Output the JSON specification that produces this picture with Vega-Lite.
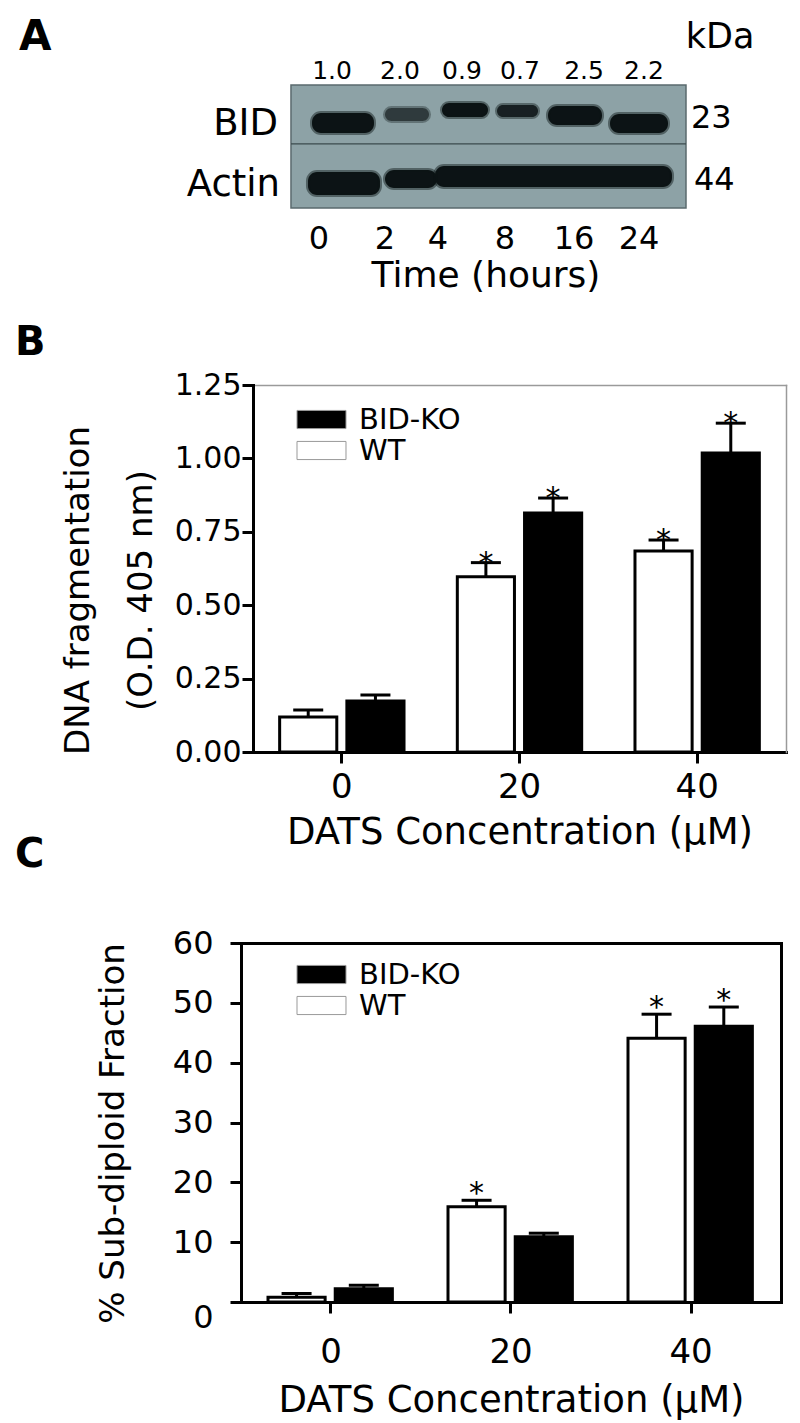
{
  "$schema": "https://vega.github.io/schema/vega-lite/v6.json",
  "padding": {"left": 15, "top": 16, "right": 5, "bottom": 5},
  "background": "white",
  "spacing": 191,
  "bounds": "flush",
  "resolve": {"scale": {"fill": "independent", "opacity": "independent"}, "legend": {"fill": "independent"}},
  "config": {
    "font": "DejaVu Sans",
    "view": {"stroke": null},
    "axis": {"domainColor": "black", "tickColor": "black", "labelColor": "black", "titleColor": "black", "grid": false, "labelFont": "DejaVu Sans", "titleFont": "DejaVu Sans", "titleFontWeight": "normal", "domainCap": "square"},
    "legend": {"labelFont": "DejaVu Sans", "labelColor": "black"},
    "title": {"font": "DejaVu Sans"}
  },
  "datasets": {
    "blot": [
      {"part": "membrane", "x1": 9.17, "x2": 81.65, "y1": 0, "y2": 112.8, "density": 1},
      {"part": "divider", "x1": 9.17, "x2": 81.65, "y1": 54.1, "y2": 54.1, "density": 1},
      {"part": "band", "x1": 13.03, "x2": 24.4, "y1": 25.7, "y2": 44.0, "density": 1},
      {"part": "band", "x1": 26.42, "x2": 34.5, "y1": 21.1, "y2": 33.0, "density": 0.72},
      {"part": "band", "x1": 36.88, "x2": 45.32, "y1": 16.5, "y2": 29.4, "density": 1},
      {"part": "band", "x1": 46.97, "x2": 54.5, "y1": 18.3, "y2": 29.4, "density": 0.9},
      {"part": "band", "x1": 56.33, "x2": 66.24, "y1": 19.3, "y2": 36.7, "density": 1},
      {"part": "band", "x1": 67.71, "x2": 78.35, "y1": 26.6, "y2": 44.0, "density": 1},
      {"part": "band", "x1": 12.29, "x2": 25.5, "y1": 79.8, "y2": 100.9, "density": 1},
      {"part": "band", "x1": 26.42, "x2": 35.96, "y1": 78.0, "y2": 94.5, "density": 1},
      {"part": "band", "x1": 35.6, "x2": 79.08, "y1": 74.3, "y2": 93.6, "density": 1}
    ],
    "blotText": [
      {"kind": "panel", "label": "A", "x": -40.73, "y": -43.6},
      {"kind": "header", "label": "kDa", "x": 87.89, "y": -43.6},
      {"kind": "ratio", "label": "1.0", "x": 16.7, "y": -12.4},
      {"kind": "ratio", "label": "2.0", "x": 29.17, "y": -12.4},
      {"kind": "ratio", "label": "0.9", "x": 40.55, "y": -12.4},
      {"kind": "ratio", "label": "0.7", "x": 51.19, "y": -12.4},
      {"kind": "ratio", "label": "2.5", "x": 62.94, "y": -12.4},
      {"kind": "ratio", "label": "2.2", "x": 73.94, "y": -12.4},
      {"kind": "protein", "label": "BID", "x": 6.79, "y": 36.2},
      {"kind": "protein", "label": "Actin", "x": 7.16, "y": 91.7},
      {"kind": "mw", "label": "23", "x": 82.57, "y": 30.7},
      {"kind": "mw", "label": "44", "x": 83.12, "y": 87.2},
      {"kind": "time", "label": "0", "x": 14.31, "y": 141.7},
      {"kind": "time", "label": "2", "x": 26.42, "y": 141.7},
      {"kind": "time", "label": "4", "x": 36.15, "y": 141.7},
      {"kind": "time", "label": "8", "x": 48.44, "y": 141.7},
      {"kind": "time", "label": "16", "x": 61.1, "y": 141.7},
      {"kind": "time", "label": "24", "x": 73.03, "y": 141.7},
      {"kind": "axisTitle", "label": "Time (hours)", "x": 44.95, "y": 175.2}
    ],
    "dnaFrag": [
      {"conc": "0", "group": "WT", "value": 0.119, "upper": 0.143, "sig": false},
      {"conc": "0", "group": "BID-KO", "value": 0.174, "upper": 0.194, "sig": false},
      {"conc": "20", "group": "WT", "value": 0.597, "upper": 0.645, "sig": true},
      {"conc": "20", "group": "BID-KO", "value": 0.814, "upper": 0.865, "sig": true},
      {"conc": "40", "group": "WT", "value": 0.685, "upper": 0.722, "sig": true},
      {"conc": "40", "group": "BID-KO", "value": 1.018, "upper": 1.12, "sig": true}
    ],
    "subdiploid": [
      {"conc": "0", "group": "WT", "value": 0.8, "upper": 1.4, "sig": false},
      {"conc": "0", "group": "BID-KO", "value": 2.2, "upper": 2.8, "sig": false},
      {"conc": "20", "group": "WT", "value": 15.9, "upper": 17.0, "sig": true},
      {"conc": "20", "group": "BID-KO", "value": 10.9, "upper": 11.5, "sig": false},
      {"conc": "40", "group": "WT", "value": 44.1, "upper": 48.1, "sig": true},
      {"conc": "40", "group": "BID-KO", "value": 46.1, "upper": 49.3, "sig": true}
    ]
  },
  "vconcat": [
    {
      "width": 545,
      "height": 109,
      "layer": [
        {
          "data": {"name": "blot"},
          "transform": [{"filter": "datum.part === 'membrane'"}],
          "mark": {"type": "rect", "fill": "#8da2a6", "stroke": "#5a6a6d", "strokeWidth": 1.5},
          "encoding": {
            "x": {"field": "x1", "type": "quantitative", "scale": {"domain": [0, 100], "nice": false, "zero": false}, "axis": null},
            "x2": {"field": "x2"},
            "y": {"field": "y1", "type": "quantitative", "scale": {"domain": [0, 100], "nice": false, "zero": false, "reverse": true}, "axis": null},
            "y2": {"field": "y2"}
          }
        },
        {
          "data": {"name": "blot"},
          "transform": [{"filter": "datum.part === 'divider'"}],
          "mark": {"type": "rule", "color": "#3b4a4d", "strokeWidth": 1.2},
          "encoding": {
            "x": {"field": "x1", "type": "quantitative", "scale": {"domain": [0, 100], "nice": false, "zero": false}, "axis": null},
            "x2": {"field": "x2"},
            "y": {"field": "y1", "type": "quantitative", "scale": {"domain": [0, 100], "nice": false, "zero": false, "reverse": true}, "axis": null}
          }
        },
        {
          "data": {"name": "blot"},
          "transform": [{"filter": "datum.part === 'band'"}],
          "mark": {"type": "rect", "fill": "#0c1315", "stroke": "#0c1315", "strokeWidth": 4, "strokeOpacity": 0.45, "cornerRadius": 9},
          "encoding": {
            "x": {"field": "x1", "type": "quantitative", "scale": {"domain": [0, 100], "nice": false, "zero": false}, "axis": null},
            "x2": {"field": "x2"},
            "y": {"field": "y1", "type": "quantitative", "scale": {"domain": [0, 100], "nice": false, "zero": false, "reverse": true}, "axis": null},
            "y2": {"field": "y2"},
            "opacity": {"field": "density", "type": "quantitative", "scale": {"domain": [0, 1], "range": [0, 1]}, "legend": null}
          }
        },
        {
          "data": {"name": "blotText"},
          "transform": [{"filter": "datum.kind === 'panel'"}],
          "mark": {"type": "text", "align": "left", "baseline": "middle", "fontSize": 42, "fontWeight": "bold", "color": "black"},
          "encoding": {
            "x": {"field": "x", "type": "quantitative", "scale": {"domain": [0, 100], "nice": false, "zero": false}, "axis": null},
            "y": {"field": "y", "type": "quantitative", "scale": {"domain": [0, 100], "nice": false, "zero": false, "reverse": true}, "axis": null},
            "text": {"field": "label"}
          }
        },
        {
          "data": {"name": "blotText"},
          "transform": [{"filter": "datum.kind === 'header'"}],
          "mark": {"type": "text", "align": "center", "baseline": "middle", "fontSize": 35, "color": "black"},
          "encoding": {
            "x": {"field": "x", "type": "quantitative", "scale": {"domain": [0, 100], "nice": false, "zero": false}, "axis": null},
            "y": {"field": "y", "type": "quantitative", "scale": {"domain": [0, 100], "nice": false, "zero": false, "reverse": true}, "axis": null},
            "text": {"field": "label"}
          }
        },
        {
          "data": {"name": "blotText"},
          "transform": [{"filter": "datum.kind === 'time'"}],
          "mark": {"type": "text", "align": "center", "baseline": "middle", "fontSize": 32, "color": "black"},
          "encoding": {
            "x": {"field": "x", "type": "quantitative", "scale": {"domain": [0, 100], "nice": false, "zero": false}, "axis": null},
            "y": {"field": "y", "type": "quantitative", "scale": {"domain": [0, 100], "nice": false, "zero": false, "reverse": true}, "axis": null},
            "text": {"field": "label"}
          }
        },
        {
          "data": {"name": "blotText"},
          "transform": [{"filter": "datum.kind === 'ratio'"}],
          "mark": {"type": "text", "align": "center", "baseline": "middle", "fontSize": 25, "color": "black"},
          "encoding": {
            "x": {"field": "x", "type": "quantitative", "scale": {"domain": [0, 100], "nice": false, "zero": false}, "axis": null},
            "y": {"field": "y", "type": "quantitative", "scale": {"domain": [0, 100], "nice": false, "zero": false, "reverse": true}, "axis": null},
            "text": {"field": "label"}
          }
        },
        {
          "data": {"name": "blotText"},
          "transform": [{"filter": "datum.kind === 'protein'"}],
          "mark": {"type": "text", "align": "right", "baseline": "middle", "fontSize": 37, "color": "black"},
          "encoding": {
            "x": {"field": "x", "type": "quantitative", "scale": {"domain": [0, 100], "nice": false, "zero": false}, "axis": null},
            "y": {"field": "y", "type": "quantitative", "scale": {"domain": [0, 100], "nice": false, "zero": false, "reverse": true}, "axis": null},
            "text": {"field": "label"}
          }
        },
        {
          "data": {"name": "blotText"},
          "transform": [{"filter": "datum.kind === 'mw'"}],
          "mark": {"type": "text", "align": "left", "baseline": "middle", "fontSize": 32, "color": "black"},
          "encoding": {
            "x": {"field": "x", "type": "quantitative", "scale": {"domain": [0, 100], "nice": false, "zero": false}, "axis": null},
            "y": {"field": "y", "type": "quantitative", "scale": {"domain": [0, 100], "nice": false, "zero": false, "reverse": true}, "axis": null},
            "text": {"field": "label"}
          }
        },
        {
          "data": {"name": "blotText"},
          "transform": [{"filter": "datum.kind === 'axisTitle'"}],
          "mark": {"type": "text", "align": "center", "baseline": "middle", "fontSize": 36, "color": "black"},
          "encoding": {
            "x": {"field": "x", "type": "quantitative", "scale": {"domain": [0, 100], "nice": false, "zero": false}, "axis": null},
            "y": {"field": "y", "type": "quantitative", "scale": {"domain": [0, 100], "nice": false, "zero": false, "reverse": true}, "axis": null},
            "text": {"field": "label"}
          }
        }
      ]
    },
    {
      "width": 545,
      "height": 367,
      "title": {"text": "B", "anchor": "start", "frame": "group", "dx": -226, "offset": 7, "fontSize": 40, "fontWeight": "bold", "color": "black"},
      "data": {"name": "dnaFrag"},
      "layer": [
        {
          "mark": {"type": "bar", "stroke": "black", "strokeWidth": 3},
          "encoding": {
            "x": {"field": "conc", "type": "nominal", "sort": ["0", "20", "40"], "scale": {"range": [12, 545], "paddingInner": 0.3, "paddingOuter": 0.15},
              "axis": {"orient": "bottom", "title": "DATS Concentration (μM)", "labelAngle": 0, "labelFontSize": 34, "labelPadding": 7, "tickSize": 11, "tickWidth": 3, "domainWidth": 3, "titleFontSize": 37, "titlePadding": 10}},
            "xOffset": {"field": "group", "type": "nominal", "sort": ["WT", "BID-KO"], "scale": {"paddingInner": 0.15}},
            "y": {"field": "value", "type": "quantitative", "scale": {"domain": [0, 1.25], "nice": false},
              "axis": {"orient": "left", "offset": -12, "values": [0, 0.25, 0.5, 0.75, 1, 1.25], "format": ".2f", "labelFontSize": 30, "labelPadding": 1, "tickSize": 11, "tickWidth": 3, "domainWidth": 3,
                "title": ["DNA fragmentation", "(O.D. 405 nm)"], "titleFontSize": 34, "titleLineHeight": 63, "titleAngle": -90, "titleX": -175, "titleY": 205, "titleAlign": "center", "titleBaseline": "middle"}},
            "fill": {"field": "group", "type": "nominal", "scale": {"domain": ["BID-KO", "WT"], "range": ["black", "white"]},
              "legend": {"orient": "none", "legendX": 66, "legendY": 20, "title": null, "symbolType": "M-2,-0.74H2V0.74H-2Z", "symbolSize": 600, "symbolStrokeColor": "#999", "symbolStrokeWidth": 1, "symbolOpacity": 1, "labelFontSize": 29, "labelOffset": 23, "rowPadding": 1}}
          }
        },
        {
          "mark": {"type": "rule", "color": "black", "strokeWidth": 3},
          "encoding": {
            "x": {"field": "conc", "type": "nominal", "sort": ["0", "20", "40"], "axis": null},
            "xOffset": {"field": "group", "type": "nominal", "sort": ["WT", "BID-KO"]},
            "y": {"field": "value", "type": "quantitative", "axis": null},
            "y2": {"field": "upper"}
          }
        },
        {
          "mark": {"type": "tick", "orient": "horizontal", "color": "black", "size": 30, "thickness": 3, "opacity": 1},
          "encoding": {
            "x": {"field": "conc", "type": "nominal", "sort": ["0", "20", "40"], "axis": {"orient": "top", "labels": false, "ticks": false, "title": null, "domainColor": "#9a9a9a", "domainWidth": 1.5}},
            "xOffset": {"field": "group", "type": "nominal", "sort": ["WT", "BID-KO"]},
            "y": {"field": "upper", "type": "quantitative", "axis": {"orient": "right", "labels": false, "ticks": false, "title": null, "domainColor": "#9a9a9a", "domainWidth": 1.5}}
          }
        },
        {
          "transform": [{"filter": "datum.sig"}],
          "mark": {"type": "text", "text": "*", "fontSize": 30, "baseline": "alphabetic", "dy": 10, "color": "black"},
          "encoding": {
            "x": {"field": "conc", "type": "nominal", "sort": ["0", "20", "40"], "axis": null},
            "xOffset": {"field": "group", "type": "nominal", "sort": ["WT", "BID-KO"]},
            "y": {"field": "upper", "type": "quantitative", "axis": null}
          }
        }
      ],
      "resolve": {"axis": {"x": "independent", "y": "independent"}}
    },
    {
      "width": 540,
      "height": 359,
      "title": {"text": "C", "anchor": "start", "frame": "group", "dx": -226, "offset": 52, "fontSize": 40, "fontWeight": "bold", "color": "black"},
      "data": {"name": "subdiploid"},
      "layer": [
        {
          "mark": {"type": "bar", "stroke": "black", "strokeWidth": 3},
          "encoding": {
            "x": {"field": "conc", "type": "nominal", "sort": ["0", "20", "40"], "scale": {"paddingInner": 0.3, "paddingOuter": 0.15},
              "axis": {"orient": "bottom", "title": "DATS Concentration (μM)", "labelAngle": 0, "labelFontSize": 34, "labelPadding": 22, "tickSize": 11, "tickWidth": 3, "domainWidth": 3, "titleFontSize": 37, "titlePadding": 13}},
            "xOffset": {"field": "group", "type": "nominal", "sort": ["WT", "BID-KO"], "scale": {"paddingInner": 0.15}},
            "y": {"field": "value", "type": "quantitative", "scale": {"domain": [0, 60], "nice": false},
              "axis": {"orient": "left", "values": [0, 10, 20, 30, 40, 50, 60], "labelFontSize": 32, "labelPadding": 17, "labelBaseline": {"condition": {"test": "datum.value === 0", "value": "top"}, "value": "middle"}, "tickSize": 11, "tickWidth": 3, "domainWidth": 3,
                "title": "% Sub-diploid Fraction", "titleFontSize": 34, "titleAngle": -90, "titleX": -128, "titleY": 190, "titleAlign": "center", "titleBaseline": "middle"}},
            "fill": {"field": "group", "type": "nominal", "scale": {"domain": ["BID-KO", "WT"], "range": ["black", "white"]},
              "legend": {"orient": "none", "legendX": 66, "legendY": 17, "title": null, "symbolType": "M-2,-0.74H2V0.74H-2Z", "symbolSize": 600, "symbolStrokeColor": "#999", "symbolStrokeWidth": 1, "symbolOpacity": 1, "labelFontSize": 29, "labelOffset": 23, "rowPadding": 1}}
          }
        },
        {
          "mark": {"type": "rule", "color": "black", "strokeWidth": 3},
          "encoding": {
            "x": {"field": "conc", "type": "nominal", "sort": ["0", "20", "40"], "axis": null},
            "xOffset": {"field": "group", "type": "nominal", "sort": ["WT", "BID-KO"]},
            "y": {"field": "value", "type": "quantitative", "axis": null},
            "y2": {"field": "upper"}
          }
        },
        {
          "mark": {"type": "tick", "orient": "horizontal", "color": "black", "size": 30, "thickness": 3, "opacity": 1},
          "encoding": {
            "x": {"field": "conc", "type": "nominal", "sort": ["0", "20", "40"], "axis": {"orient": "top", "labels": false, "ticks": false, "title": null, "domainColor": "black", "domainWidth": 3}},
            "xOffset": {"field": "group", "type": "nominal", "sort": ["WT", "BID-KO"]},
            "y": {"field": "upper", "type": "quantitative", "axis": {"orient": "right", "labels": false, "ticks": false, "title": null, "domainColor": "black", "domainWidth": 3}}
          }
        },
        {
          "transform": [{"filter": "datum.sig"}],
          "mark": {"type": "text", "text": "*", "fontSize": 30, "baseline": "alphabetic", "dy": 3, "color": "black"},
          "encoding": {
            "x": {"field": "conc", "type": "nominal", "sort": ["0", "20", "40"], "axis": null},
            "xOffset": {"field": "group", "type": "nominal", "sort": ["WT", "BID-KO"]},
            "y": {"field": "upper", "type": "quantitative", "axis": null}
          }
        }
      ],
      "resolve": {"axis": {"x": "independent", "y": "independent"}}
    }
  ]
}
